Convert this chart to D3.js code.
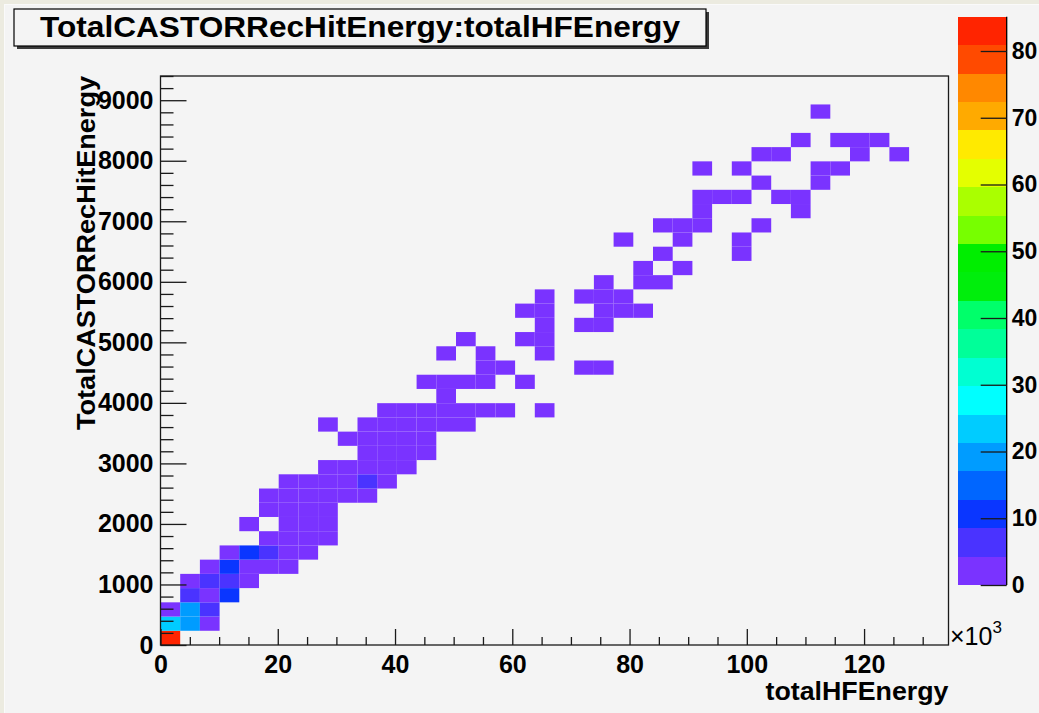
<!DOCTYPE html>
<html>
<head>
<meta charset="utf-8">
<script src="https://cdn.jsdelivr.net/npm/d3@7"></script>
<style>
  html, body { margin: 0; padding: 0; background: #f4f4f4; }
  svg { display: block; }
  text { font-family: "Liberation Sans", Arial, Helvetica, sans-serif; font-weight: bold; fill: #000; }
</style>
</head>
<body>
<svg id="chart" width="1039" height="713"></svg>
<script>
// ---- histogram definition -------------------------------------------------
const histTitle = "TotalCASTORRecHitEnergy:totalHFEnergy";
const xTitle = "totalHFEnergy";
const yTitle = "TotalCASTORRecHitEnergy";

const xRange = [0, 134.4];      // totalHFEnergy, in units of 10^3
const yRange = [0, 9400];       // TotalCASTORRecHitEnergy
const nBinsX = 40;
const nBinsY = 40;
const zMax = 85140;             // largest bin content (top of the palette)

const xTicks = [0, 20, 40, 60, 80, 100, 120];
const yTicks = [0, 1000, 2000, 3000, 4000, 5000, 6000, 7000, 8000, 9000];
const zTicks = [0, 10, 20, 30, 40, 50, 60, 70, 80];   // palette labels, x10^3

// 20-level rainbow palette, lowest level first
const palette = [
  "#7a33ff", "#4a33ff", "#0a36ff", "#0066ff", "#009cff",
  "#00ccff", "#00ffff", "#00ffd2", "#00ff99", "#00ff6a",
  "#00ee0c", "#00ee00", "#77ff00", "#aaff00", "#e4ff00",
  "#ffea00", "#ffaa00", "#ff8800", "#ff4a00", "#ff2400"
];

// filled bins, one row of the y axis per entry
const rowY = [0, 1, 2, 3, 4, 5, 6, 7, 8, 9, 10, 11, 12, 13, 14, 15, 16, 17, 18, 19,
              20, 21, 22, 23, 24, 25, 26, 27, 28, 29, 30, 31, 32, 33, 34, 35, 37];
const rowX = [
  [0],
  [0, 1, 2],
  [0, 1, 2],
  [1, 2, 3],
  [1, 2, 3, 4],
  [2, 3, 4, 5, 6],
  [3, 4, 5, 6, 7],
  [5, 6, 7, 8],
  [4, 6, 7, 8],
  [5, 6, 7, 8],
  [5, 6, 7, 8, 9, 10],
  [6, 7, 8, 9, 10, 11],
  [8, 9, 10, 11, 12],
  [10, 11, 12, 13],
  [9, 10, 11, 12, 13],
  [8, 10, 11, 12, 13, 14, 15],
  [11, 12, 13, 14, 15, 16, 17, 19],
  [14],
  [13, 14, 15, 16, 18],
  [16, 17, 21, 22],
  [14, 16, 19],
  [15, 18, 19],
  [19, 21, 22],
  [18, 19, 22, 23, 24],
  [19, 21, 22, 23],
  [22, 24, 25],
  [24, 26],
  [25, 29],
  [23, 26, 29],
  [25, 26, 27, 30],
  [27, 32],
  [27, 28, 29, 31, 32],
  [30, 33],
  [27, 29, 33, 34],
  [30, 31, 35, 37],
  [32, 34, 35, 36],
  [33]
];
const rowCount = [
  [85140],
  [23500, 19000, 2600],
  [3100, 18200, 6200],
  [5900, 3800, 10400],
  [2900, 6800, 7100, 2400],
  [2200, 9800, 3600, 2100, 900],
  [1700, 10900, 5200, 3400, 1300],
  [2700, 3900, 2500, 800],
  [600, 3300, 3000, 1400],
  [1200, 2800, 3500, 1800],
  [700, 2300, 3700, 2600, 1500, 400],
  [900, 2100, 3300, 3900, 4600, 1100],
  [1600, 3000, 3800, 2200, 600],
  [2500, 3400, 2700, 900],
  [1000, 2400, 3600, 2900, 1300],
  [300, 1100, 2600, 3100, 2000, 900, 400],
  [800, 1900, 2300, 1700, 1000, 500, 300, 200],
  [1200],
  [400, 1500, 900, 600, 200],
  [500, 300, 250, 200],
  [300, 700, 300],
  [350, 250, 400],
  [450, 300, 250],
  [200, 500, 350, 400, 200],
  [300, 450, 600, 350],
  [300, 250, 300],
  [200, 250],
  [300, 150],
  [150, 200, 200],
  [250, 300, 350, 150],
  [300, 150],
  [200, 250, 200, 300, 250],
  [200, 150],
  [150, 150, 250, 200],
  [200, 200, 150, 100],
  [150, 200, 150, 150],
  [100]
];

// ---- drawing ----------------------------------------------------------------
const svg = d3.select("#chart");
const W = 1039, H = 713;

// canvas background with the thin window border on the top and left
svg.append("rect").attr("width", W).attr("height", H).attr("fill", "#f4f4f4");
svg.append("rect").attr("x", 0).attr("y", 0).attr("width", W).attr("height", 4).attr("fill", "#ecebe0");
svg.append("rect").attr("x", 0).attr("y", 0).attr("width", 4).attr("height", H).attr("fill", "#ecebe0");
svg.append("rect").attr("x", 4).attr("y", 4).attr("width", W).attr("height", 1).attr("fill", "#fafafa");
svg.append("rect").attr("x", 4).attr("y", 4).attr("width", 1).attr("height", H).attr("fill", "#fafafa");

const frame = { left: 160.5, right: 948.5, top: 76, bottom: 645 };

const x = d3.scaleLinear().domain(xRange).range([frame.left, frame.right]);
const y = d3.scaleLinear().domain(yRange).range([frame.bottom, frame.top]);
const color = d3.scaleQuantize().domain([0, zMax]).range(palette);

const binW = (xRange[1] - xRange[0]) / nBinsX;
const binH = (yRange[1] - yRange[0]) / nBinsY;

const cells = [];
rowY.forEach((j, r) => {
  rowX[r].forEach((i, k) => cells.push({ i: i, j: j, n: rowCount[r][k] }));
});

svg.append("g").attr("class", "cells")
  .selectAll("rect").data(cells).join("rect")
  .attr("x", d => x(xRange[0] + d.i * binW))
  .attr("y", d => y(yRange[0] + (d.j + 1) * binH))
  .attr("width", d => x(xRange[0] + (d.i + 1) * binW) - x(xRange[0] + d.i * binW))
  .attr("height", d => y(yRange[0] + d.j * binH) - y(yRange[0] + (d.j + 1) * binH))
  .attr("fill", d => color(Math.min(d.n, zMax - 1)));

// frame
svg.append("rect")
  .attr("x", frame.left).attr("y", frame.top)
  .attr("width", frame.right - frame.left).attr("height", frame.bottom - frame.top)
  .attr("fill", "none").attr("stroke", "#1a1a1a").attr("stroke-width", 1.3);

// x axis: major ticks every 20, minor every 5, ticks pointing into the frame
const xMinor = d3.range(0, 135, 5).filter(v => v % 20 !== 0 && v <= xRange[1]);
const gxMinor = svg.append("g").attr("transform", `translate(0,${frame.bottom})`)
  .call(d3.axisBottom(x).tickValues(xMinor).tickSize(-8).tickFormat(""));
const gx = svg.append("g").attr("transform", `translate(0,${frame.bottom})`)
  .call(d3.axisBottom(x).tickValues(xTicks).tickSize(-16).tickPadding(10).tickFormat(d3.format("d")));

// y axis: major ticks every 1000, minor every 200
const yMinor = d3.range(0, 9401, 200).filter(v => v % 1000 !== 0);
const gyMinor = svg.append("g").attr("transform", `translate(${frame.left},0)`)
  .call(d3.axisLeft(y).tickValues(yMinor).tickSize(-13).tickFormat(""));
const gy = svg.append("g").attr("transform", `translate(${frame.left},0)`)
  .call(d3.axisLeft(y).tickValues(yTicks).tickSize(-26).tickPadding(7).tickFormat(d3.format("d")));

[gx, gxMinor, gy, gyMinor].forEach(g => {
  g.select(".domain").remove();
  g.selectAll(".tick line").attr("stroke", "#1a1a1a").attr("stroke-width", 1.3);
  g.selectAll("text").attr("font-size", 25).attr("fill", "#000")
    .style("font-family", "'Liberation Sans', Arial, sans-serif").style("font-weight", "bold");
});

// x10^3 exponent of the x axis
const expo = svg.append("text").attr("x", 950).attr("y", 645).attr("font-size", 25);
expo.append("tspan").style("font-weight", "normal").text("\u00d7");
expo.append("tspan").style("font-weight", "normal").text("10");
expo.append("tspan").attr("font-size", 17).attr("dy", -12).style("font-weight", "normal").text("3");

// axis titles
svg.append("text")
  .attr("x", frame.right).attr("y", 700)
  .attr("text-anchor", "end").attr("font-size", 25.5)
  .attr("textLength", 183).attr("lengthAdjust", "spacingAndGlyphs")
  .text(xTitle);

svg.append("text")
  .attr("transform", `translate(95,${frame.top}) rotate(-90)`)
  .attr("text-anchor", "end").attr("font-size", 26)
  .attr("textLength", 354).attr("lengthAdjust", "spacingAndGlyphs")
  .text(yTitle);

// title box with drop shadow
svg.append("rect").attr("x", 17).attr("y", 12).attr("width", 692).attr("height", 37).attr("fill", "#3a3a3a");
svg.append("rect").attr("x", 14).attr("y", 9).attr("width", 692).attr("height", 37)
  .attr("fill", "#f4f4f4").attr("stroke", "#000").attr("stroke-width", 1.2);
svg.append("text")
  .attr("x", 360).attr("y", 37)
  .attr("text-anchor", "middle").attr("font-size", 30)
  .attr("textLength", 640).attr("lengthAdjust", "spacingAndGlyphs")
  .text(histTitle);

// colour palette on the right
const pal = { left: 958.3, right: 1006.7, top: 16.7, bottom: 585 };
const z = d3.scaleLinear().domain([0, zMax / 1000]).range([pal.bottom, pal.top]);
const levels = d3.range(palette.length);
svg.append("g").selectAll("rect").data(levels).join("rect")
  .attr("x", pal.left)
  .attr("width", pal.right - pal.left)
  .attr("y", k => z((k + 1) * zMax / 1000 / palette.length))
  .attr("height", k => z(k * zMax / 1000 / palette.length) - z((k + 1) * zMax / 1000 / palette.length))
  .attr("fill", k => palette[k])
  .attr("shape-rendering", "crispEdges");

const gz = svg.append("g").attr("transform", `translate(${pal.right},0)`)
  .call(d3.axisRight(z).tickValues(zTicks).tickSize(-26).tickPadding(5).tickFormat(d3.format("d")));
gz.select(".domain").attr("stroke", "#000").attr("stroke-width", 1.3).attr("d", `M0,${pal.top}V${pal.bottom}`);
gz.selectAll(".tick line").attr("stroke", "#1a1a1a").attr("stroke-width", 1.3);
gz.selectAll("text").attr("font-size", 23).attr("fill", "#000")
  .style("font-family", "'Liberation Sans', Arial, sans-serif").style("font-weight", "bold");
</script>
</body>
</html>
